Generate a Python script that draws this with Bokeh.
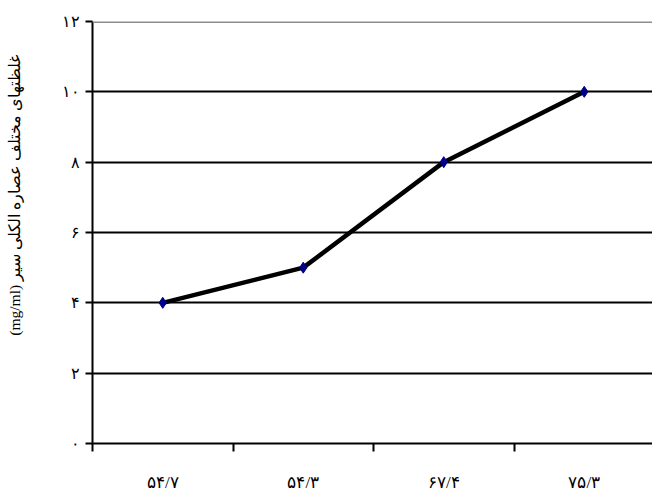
from bokeh.plotting import figure
from bokeh.models import Range1d, FixedTicker, Span, Title
from bokeh.embed import file_html
from bokeh.resources import INLINE

# Garlic alcoholic extract concentrations (category labels) and measured values
categories = ["۵۴/۷", "۵۴/۳", "۶۷/۴", "۷۵/۳"]
values = [4, 5, 8, 10]
y_ticks = [0, 2, 4, 6, 8, 10, 12]
y_tick_labels = ["۰", "۲", "۴", "۶", "۸", "۱۰", "۱۲"]
y_title = "(mg/ml) غلظتهای مختلف عصاره الکلی سیر"

xs = list(range(len(categories)))

p = figure(width=652, height=494, output_backend="svg", toolbar_location=None,
           x_range=Range1d(-0.5, -0.5 + 560 / 140.5), y_range=Range1d(0, 12),
           min_border_left=92, min_border_right=0, min_border_top=21, min_border_bottom=51)
p.outline_line_color = None
p.background_fill_color = "white"
p.border_fill_color = "white"

font = "Liberation Serif"

# x axis: labels at category centres, ticks at category boundaries
p.xaxis.ticker = FixedTicker(ticks=xs, minor_ticks=[i - 0.5 for i in range(len(categories) + 1)])
p.xaxis.major_label_overrides = {i: c for i, c in zip(xs, categories)}
p.xaxis.major_tick_out = 0
p.xaxis.major_tick_in = 0
p.xaxis.minor_tick_out = 8
p.xaxis.minor_tick_in = 0
p.xaxis.minor_tick_line_color = "black"
p.xaxis.minor_tick_line_width = 2
p.xaxis.axis_line_width = 2
p.xaxis.axis_line_color = "black"
p.xaxis.major_label_standoff = 21
p.xaxis.major_label_text_font = font
p.xaxis.major_label_text_font_size = "17px"
p.xaxis.major_label_text_color = "black"

# y axis (a blank axis label keeps a gap before the title)
p.yaxis.ticker = FixedTicker(ticks=y_ticks)
p.yaxis.major_label_overrides = {t: l for t, l in zip(y_ticks, y_tick_labels)}
p.yaxis.major_tick_out = 7
p.yaxis.major_tick_in = 0
p.yaxis.minor_tick_line_color = None
p.yaxis.major_tick_line_width = 2
p.yaxis.axis_line_width = 2
p.yaxis.axis_line_color = "black"
p.yaxis.major_label_standoff = 6
p.yaxis.major_label_text_font = font
p.yaxis.major_label_text_font_size = "16px"
p.yaxis.major_label_text_color = "black"
p.yaxis.axis_label = " "
p.yaxis.axis_label_text_font_size = "10px"
p.yaxis.axis_label_standoff = 22

p.xgrid.grid_line_color = None
p.ygrid.ticker = FixedTicker(ticks=[2, 4, 6, 8, 10])
p.ygrid.grid_line_color = "black"
p.ygrid.grid_line_width = 2

p.add_layout(Span(location=12, dimension="width", line_color="#8c8c8c", line_width=3))

p.line(xs, values, line_color="black", line_width=4.5)
p.scatter(xs, values, marker="diamond", size=11, fill_color="#00008b", line_color="#00008b")

# rotated value-axis title on the left, anchored near the top of the frame
p.add_layout(Title(text=y_title, align="right", offset=34, text_font=font,
                   text_font_size="15.5px", text_font_style="normal",
                   text_color="black", standoff=0), "left")

open("out.html", "w").write(file_html(p, INLINE))
